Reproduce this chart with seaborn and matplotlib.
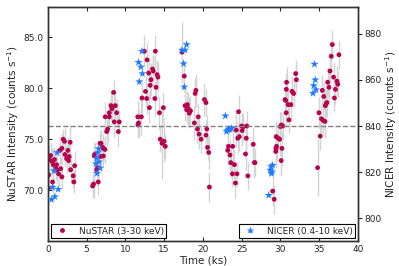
import numpy as np
import pandas as pd
import seaborn as sns
import matplotlib
matplotlib.use("Agg")
import matplotlib.pyplot as plt
from matplotlib.lines import Line2D

# NuSTAR light curve (3-30 keV), left axis
nu_time = [0.00, 0.05, 0.10, 0.20, 0.35, 0.55, 0.60, 0.70, 0.85, 1.00, 1.12, 1.20,
           1.38, 1.55, 1.65, 1.81, 1.81, 1.98, 2.15, 2.20, 2.41, 2.58, 2.67, 2.75,
           2.88, 2.93, 3.27, 3.36, 3.45,
           5.77, 5.90, 5.99, 6.03, 6.29, 6.42, 6.50, 6.72, 6.80, 6.85, 7.06, 7.15,
           7.15, 7.36, 7.40, 7.58, 7.71, 7.92, 7.92, 8.14, 8.27, 8.48, 8.57, 8.70,
           8.87, 9.09, 9.21,
           11.60, 11.62, 11.70, 12.06, 12.14, 12.45, 12.60, 12.75, 12.80, 13.00,
           13.10, 13.20, 13.30, 13.50, 13.60, 13.80, 13.87, 13.95, 14.10, 14.20,
           14.40, 14.50, 14.73, 14.90, 15.00, 15.15,
           17.30, 17.60, 17.70, 17.90, 18.00, 18.10, 18.25, 18.40, 18.90, 19.00,
           19.10, 19.30, 19.40, 19.50, 19.77, 20.20, 20.40, 20.40, 20.50, 20.60,
           20.75, 20.84,
           23.20, 23.30, 23.50, 23.60, 23.80, 23.85, 24.07, 24.20, 24.30, 24.40,
           24.50, 24.60, 24.70, 25.00, 25.06, 25.20, 25.50, 25.60, 25.67, 25.80,
           26.50, 26.65, 26.72,
           29.00, 29.20, 29.40, 29.42, 29.46, 29.50, 29.70, 29.90, 30.00, 30.10,
           30.12, 30.20, 30.30, 30.60, 30.70, 30.75, 30.77, 30.80, 31.00, 31.10,
           31.35, 31.50, 31.70, 31.97, 32.06,
           34.80, 34.97, 35.14, 35.30, 35.40, 35.50, 35.60, 35.75, 35.80, 35.90,
           36.00, 36.10, 36.26, 36.40, 36.56, 36.70, 36.86, 36.97, 37.10, 37.30,
           37.40, 37.55]
nu_rate = [71.4, 70.2, 71.5, 73.0, 73.4, 72.8, 70.8, 72.5, 73.0, 72.3, 72.5, 72.0,
           71.6, 73.9, 72.1, 74.1, 71.3, 75.0, 74.8, 73.5, 73.1, 73.9, 72.9, 73.3,
           74.7, 72.0, 71.4, 70.8, 72.4,
           70.4, 70.6, 73.35, 73.5, 72.0, 72.2, 70.8, 74.6, 73.3, 74.6, 74.2, 74.1,
           73.35, 74.0, 77.2, 75.75, 76.0, 77.6, 77.2, 78.3, 78.0, 79.6, 76.7, 78.3,
           77.6, 75.75, 76.7,
           77.2, 76.4, 76.6, 77.2, 79.05, 83.65, 79.7, 79.0, 82.8, 81.5,
           78.1, 80.3, 80.85, 81.9, 81.7, 79.0, 83.65, 80.1, 81.35, 81.1,
           77.6, 75.0, 74.6, 78.1, 74.8, 74.3,
           83.55, 81.2, 78.3, 77.9, 78.4, 78.0, 77.56, 77.8, 76.6, 79.5,
           79.8, 76.0, 77.2, 75.5, 75.0, 78.9, 78.6, 75.4, 76.0, 74.2,
           73.7, 70.3,
           73.9, 74.3, 73.45, 72.7, 71.6, 74.3, 72.5, 70.7, 75.9, 71.6,
           75.1, 77.7, 75.25, 76.3, 75.85, 76.2, 73.55, 75.1, 76.3, 71.4,
           74.5, 72.7, 72.7,
           69.9, 69.1, 73.8, 74.1, 75.25, 74.3, 75.1, 75.0, 76.25, 72.9,
           76.4, 74.1, 76.3, 78.9, 78.8, 77.6, 79.9, 80.6, 78.4, 76.9,
           78.4, 79.7, 79.5, 81.45, 80.85,
           72.2, 77.6, 75.3, 77.0, 79.8, 76.85, 79.2, 76.75, 78.3, 78.5,
           78.6, 80.6, 80.1, 81.7, 83.15, 84.3, 81.1, 79.05, 79.9, 80.7,
           80.4, 83.3]
nu_err = [1.2, 1.0, 1.3, 1.4, 1.2, 1.3, 1.1, 1.5, 1.2, 1.3, 1.0, 1.4,
          1.2, 1.3, 1.1, 1.5, 1.2, 1.0, 1.3, 1.2, 1.4, 1.3, 1.1, 1.2,
          1.6, 1.3, 1.2, 1.1, 1.4,
          1.2, 1.4, 1.3, 1.2, 1.5, 1.6, 1.3, 1.2, 1.4, 1.3, 1.2, 1.4,
          1.1, 1.3, 1.5, 1.4, 1.3, 1.2, 1.5, 1.4, 1.3, 1.2, 1.6, 1.3,
          1.4, 1.5, 1.2,
          1.6, 1.3, 1.4, 1.8, 1.5, 1.6, 1.4, 1.5, 1.7, 1.4,
          1.5, 1.3, 1.6, 1.4, 1.5, 1.7, 1.6, 1.3, 1.4, 1.5,
          1.6, 1.3, 3.5, 1.4, 2.0, 1.2,
          3.0, 1.6, 1.5, 1.4, 1.3, 1.6, 1.5, 1.4, 1.7, 1.5,
          1.6, 1.4, 1.3, 1.5, 1.4, 1.6, 1.3, 1.5, 1.4, 1.2,
          1.6, 1.5,
          1.4, 1.3, 1.5, 1.4, 1.3, 1.6, 1.4, 1.5, 1.7, 1.3,
          1.5, 1.6, 1.4, 1.3, 1.5, 1.4, 1.6, 1.3, 1.5, 1.4,
          1.6, 1.5, 1.3,
          1.5, 1.4, 1.6, 1.3, 1.5, 1.4, 1.3, 1.6, 1.4, 1.5,
          1.3, 1.6, 1.4, 1.5, 1.7, 1.4, 1.6, 1.5, 1.4, 1.3,
          1.6, 1.5, 1.4, 1.3, 1.5,
          2.8, 1.5, 1.4, 1.6, 1.5, 1.4, 1.3, 1.6, 1.5, 1.4,
          1.3, 1.5, 1.4, 1.6, 1.5, 1.4, 1.5, 1.3, 1.4, 1.5,
          1.3, 1.4]

# NICER light curve (0.4-10 keV), right axis
ni_time = [0.47, 0.60, 0.78, 0.90, 1.20, 1.33,
           6.20, 6.30, 6.35, 6.45, 6.55, 6.60, 6.75,
           11.70, 11.80, 12.00, 12.14, 12.20,
           17.30, 17.50, 17.60, 17.70, 17.90,
           22.90, 23.05, 23.20, 23.35, 23.50, 23.70,
           28.50, 28.70, 28.80, 28.85, 28.90, 29.00,
           34.20, 34.30, 34.40, 34.50, 34.60]
ni_rate = [808.2, 813.5, 820.6, 809.4, 828.5, 812.6,
           823.7, 826.2, 819.5, 828.5, 830.2, 824.5, 821.8,
           867.6, 859.2, 865.6, 872.4, 862.7,
           872.9, 867.0, 856.9, 872.9, 875.3,
           844.4, 837.6, 838.2, 838.5, 838.7, 839.0,
           810.0, 820.9, 822.4, 819.4, 820.2, 823.0,
           854.2, 857.5, 866.8, 860.0, 855.7]

nu = pd.DataFrame({"time": nu_time, "rate": nu_rate, "err": nu_err})
ni = pd.DataFrame({"time": ni_time, "rate": ni_rate})

sns.set_style("white")
plt.rcParams["font.family"] = ["DejaVu Sans"]

nu_color = "#b8004f"
ni_color = "#1f7bff"

fig = plt.figure(figsize=(3.99, 2.66), dpi=100)
ax = fig.add_axes([0.120, 0.094, 0.777, 0.880])
ax2 = ax.twinx()

# errorbars then points
ax.errorbar(nu["time"], nu["rate"], yerr=nu["err"], fmt="none",
            ecolor="#d4d4d4", elinewidth=1.0, zorder=1)
sns.scatterplot(data=nu, x="time", y="rate", ax=ax, color=nu_color, s=12,
                edgecolor="none", zorder=3, legend=False)
sns.scatterplot(data=ni, x="time", y="rate", ax=ax2, color=ni_color, marker="*",
                s=38, edgecolor="none", zorder=4, legend=False)

ax2.axhline(840, color="gray", ls="--", lw=1.0, zorder=0)

ax.set_xlim(0, 40)
ax.set_ylim(65, 88)
ax2.set_ylim(790.2, 891.6)
ax.set_yticks([70, 75, 80, 85])
ax.set_yticklabels(["70.0", "75.0", "80.0", "85.0"])
ax2.set_yticks([800, 820, 840, 860, 880])
ax.set_xticks([0, 5, 10, 15, 20, 25, 30, 35, 40])

ax.set_xlabel("Time (ks)", fontsize=7.5, labelpad=1)
ax.set_ylabel("NuSTAR Intensity (counts s$^{-1}$)", fontsize=7.5, labelpad=2)
ax2.set_ylabel("NICER Intensity (counts s$^{-1}$)", fontsize=7.5, labelpad=1)

ax.tick_params(axis="both", direction="in", labelsize=6.5, length=3, width=0.8,
               top=True, bottom=True, left=True, right=False, pad=3)
ax2.tick_params(axis="y", direction="out", labelsize=6.5, length=3, width=0.8, pad=2)
for a in (ax, ax2):
    for sp in a.spines.values():
        sp.set_color("#333333")
        sp.set_linewidth(1.0)

h1 = Line2D([], [], ls="none", marker="o", color=nu_color, markersize=3.5,
            markeredgecolor="none")
h2 = Line2D([], [], ls="none", marker="*", color=ni_color, markersize=6,
            markeredgecolor="none")
leg1 = ax.legend([h1], ["NuSTAR (3-30 keV)"], loc="lower left", fontsize=6.5,
                 fancybox=False, framealpha=1, edgecolor="black",
                 borderaxespad=0.3, borderpad=0.3, handletextpad=0.8)
leg1.get_frame().set_linewidth(0.8)
leg2 = ax2.legend([h2], ["NICER (0.4-10 keV)"], loc="lower right", fontsize=6.5,
                  fancybox=False, framealpha=1, edgecolor="black",
                  borderaxespad=0.3, borderpad=0.3, handletextpad=0.8)
leg2.get_frame().set_linewidth(0.8)

fig.savefig("out.png", dpi=100)
